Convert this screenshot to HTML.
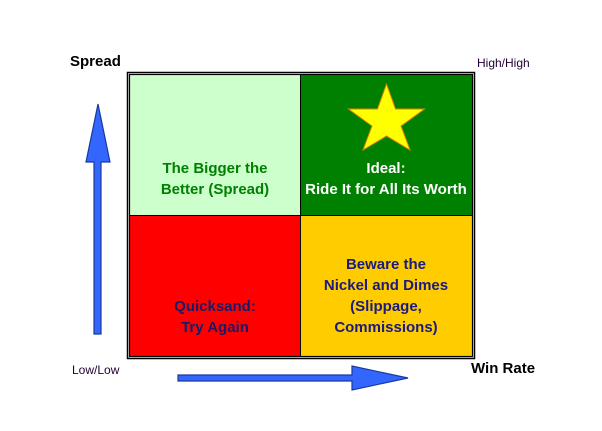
<!DOCTYPE html>
<html><head><style>
body{margin:0;background:#fff;width:602px;height:431px;overflow:hidden;position:relative;font-family:"Liberation Sans",sans-serif}
.t{position:absolute;white-space:nowrap}
.q{position:absolute;text-align:center;font-weight:bold;font-size:15px;line-height:21px}
</style></head><body>
<svg width="602" height="431" style="position:absolute;left:0;top:0">
<rect x="127.5" y="72.5" width="347" height="286" fill="none" stroke="#000" stroke-width="1.5"/>
<rect x="130" y="75" width="170" height="140" fill="#ccffcc"/>
<rect x="300" y="75" width="172" height="140" fill="#008000"/>
<rect x="130" y="215" width="170" height="141" fill="#ff0000"/>
<rect x="300" y="215" width="172" height="141" fill="#ffcc00"/>
<rect x="129.5" y="74.5" width="343" height="282" fill="none" stroke="#000" stroke-width="1.2"/>
<line x1="300.5" y1="74" x2="300.5" y2="357" stroke="#000"/>
<line x1="129" y1="215.5" x2="473" y2="215.5" stroke="#000"/>
<polygon points="386.5,84 395.5,109 424.5,109 401,126 410,150 386.5,136 363,150 372,126 348.5,109 377.5,109" fill="#ffff00" stroke="#e08000" stroke-width="1"/>
<path d="M94,334 L94,162 L86,162 L98,104 L110,162 L101,162 L101,334 Z" fill="#3366ff" stroke="#1a3a99" stroke-width="1.2"/>
<path d="M178,375 L352,375 L352,366 L408,378 L352,390 L352,381 L178,381 Z" fill="#3366ff" stroke="#1a3a99" stroke-width="1.2"/>
</svg>
<div class="t" style="left:70px;top:53px;font-weight:bold;font-size:15px">Spread</div>
<div class="t" style="left:477px;top:56px;font-size:12px;color:#220033">High/High</div>
<div class="t" style="left:72px;top:363px;font-size:12px;color:#220033">Low/Low</div>
<div class="t" style="left:471px;top:360px;font-weight:bold;font-size:15px">Win Rate</div>
<div class="q" style="left:130px;width:170px;top:158px;color:#008000">The Bigger the<br>Better (Spread)</div>
<div class="q" style="left:300px;width:172px;top:158px;color:#fff">Ideal:<br>Ride It for All Its Worth</div>
<div class="q" style="left:130px;width:170px;top:296px;color:#1a1a66">Quicksand:<br>Try Again</div>
<div class="q" style="left:300px;width:172px;top:254px;color:#1a1a80">Beware the<br>Nickel and Dimes<br>(Slippage,<br>Commissions)</div>
</body></html>
